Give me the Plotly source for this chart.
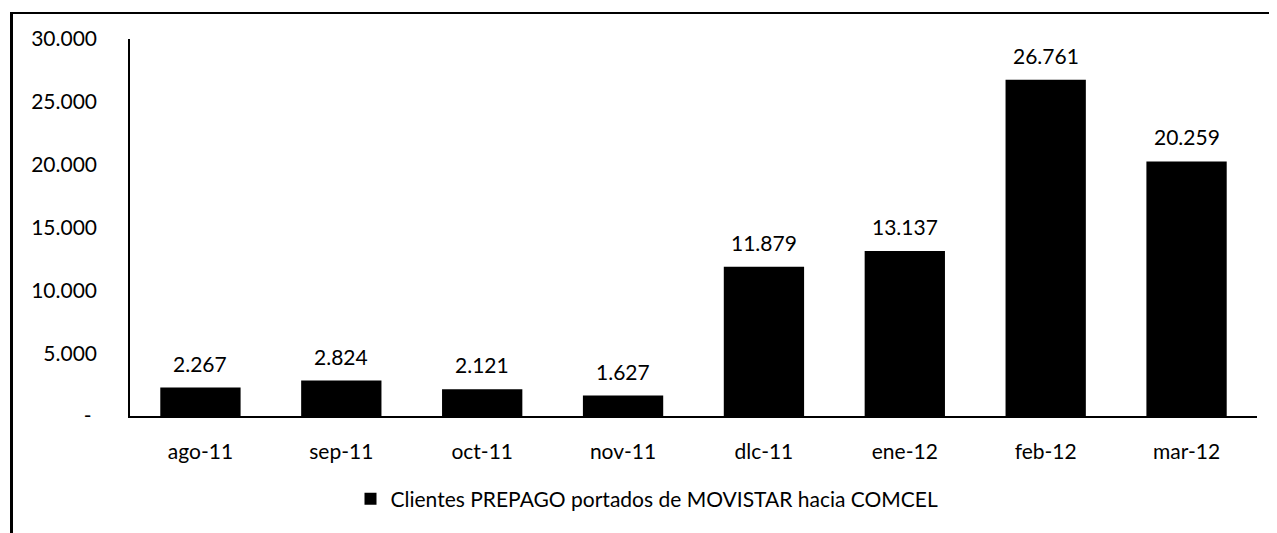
import plotly.graph_objects as go

categories = ["ago-11", "sep-11", "oct-11", "nov-11", "dlc-11", "ene-12", "feb-12", "mar-12"]
values = [2267, 2824, 2121, 1627, 11879, 13137, 26761, 20259]
series_name = "Clientes PREPAGO portados de MOVISTAR hacia COMCEL"
y_tick_values = [0, 5000, 10000, 15000, 20000, 25000, 30000]
y_tick_labels = ["-\u00a0", "5.000", "10.000", "15.000", "20.000", "25.000", "30.000"]

OFF = 8  # page body margin
W, H = 1277 - OFF, 533 - OFF
L, R, T, B = 122, 20, 31, 117
pw, ph = W - L - R, H - T - B


def px_x(x_page):
    return (x_page - OFF - L) / pw


def px_y(y_page):
    return (H - B - (y_page - OFF)) / ph


FONT = "Lato"
FS = 21

fig = go.Figure()
fig.add_trace(go.Bar(
    x=categories,
    y=values,
    name=series_name,
    marker=dict(color="black", line=dict(width=0)),
    showlegend=True,
))

for c, v in zip(categories, values):
    fig.add_annotation(
        x=c, y=v, xref="x", yref="y",
        text=f"{v:,}".replace(",", "."),
        showarrow=False, yanchor="bottom", yshift=10,
        font=dict(family=FONT, size=FS, color="black"),
    )

fig.update_layout(
    width=W, height=H,
    margin=dict(l=L, r=R, t=T, b=B, autoexpand=False),
    paper_bgcolor="white",
    plot_bgcolor="white",
    separators=",.",
    bargap=0.43,
    font=dict(family=FONT, size=FS, color="black"),
    xaxis=dict(
        showline=True, linecolor="black", linewidth=1.5,
        showgrid=False, ticks="", tickfont=dict(size=FS, color="black"),
        ticklabelstandoff=16,
    ),
    yaxis=dict(
        range=[0, 30000],
        tickvals=y_tick_values, ticktext=y_tick_labels,
        showline=True, linecolor="black", linewidth=1.5,
        showgrid=False, zeroline=False,
        ticks="",
        tickfont=dict(size=FS, color="black"),
        ticklabelstandoff=27,
    ),
    legend=dict(
        orientation="h", x=px_x(647), xanchor="center",
        y=px_y(499), yanchor="middle",
        font=dict(size=FS, color="black"),
        itemwidth=30,
        bgcolor="rgba(0,0,0,0)",
    ),
    shapes=[
        dict(type="line", xref="paper", yref="paper",
             x0=px_x(11.5), x1=px_x(11.5), y0=px_y(12), y1=px_y(540),
             line=dict(color="black", width=3)),
        dict(type="line", xref="paper", yref="paper",
             x0=px_x(10), x1=px_x(1290), y0=px_y(13), y1=px_y(13),
             line=dict(color="black", width=2)),
    ],
)

fig.write_html("out.html")
